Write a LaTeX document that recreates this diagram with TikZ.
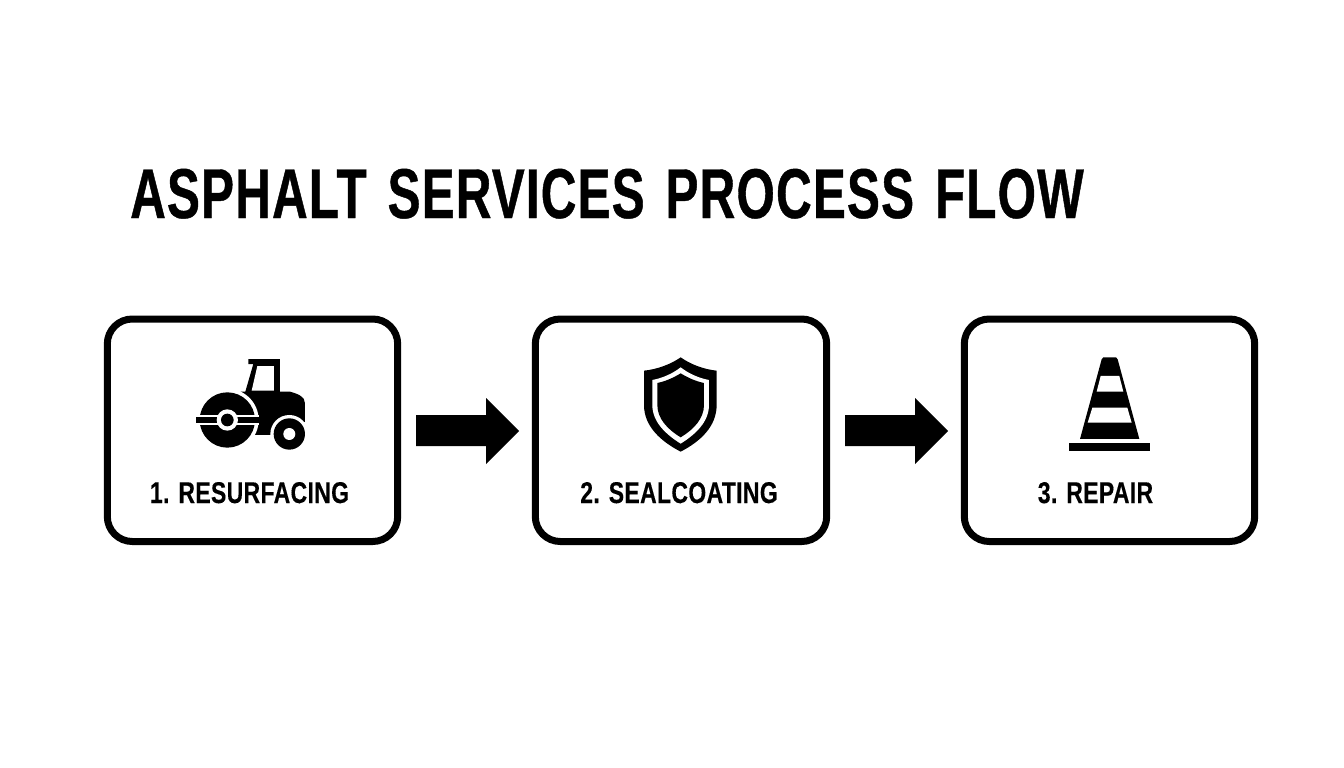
\documentclass[tikz,border=0pt]{standalone}
\usepackage{fontspec}
\newfontfamily\titlefont[FakeStretch=0.70,FakeBold=0.6,LetterSpace=1.7,WordSpace=1.4]{Liberation Sans Bold}
\newfontfamily\labelfont[FakeStretch=0.765,FakeBold=0.3,LetterSpace=1.2]{Liberation Sans Bold}
\tikzset{
  card/.style={draw=black,line width=7pt,rounded corners=25pt,fill=white},
  flowarrow/.style={fill=black,draw=none},
  titletext/.style={inner sep=0pt,anchor=base west,font=\titlefont\fontsize{70.5}{70.5}\selectfont},
  cardlabel/.style={inner sep=0pt,anchor=base,font=\labelfont\fontsize{30}{30}\selectfont},
}
\begin{document}
\begin{tikzpicture}[x=1pt,y=-1pt]
\useasboundingbox[fill=white] (0,0) rectangle (1344,768);
\node[titletext] (title) at (130,218) {ASPHALT SERVICES PROCESS FLOW};
% cards
\draw[card] (107.3,319) rectangle (397.7,541.5);
\draw[card] (535.3,319) rectangle (826.7,541.5);
\draw[card] (964.3,319) rectangle (1254.7,541.5);
\node[cardlabel] (l1) at (249.5,503) {1. RESURFACING};
\node[cardlabel] (l2) at (679,503) {2. SEALCOATING};
\node[cardlabel] (l3) at (1095.5,503) {3. REPAIR};
% arrows
\fill[flowarrow] (416,415) -- (486,415) -- (486,398) -- (519,431) -- (486,464) -- (486,446) -- (416,446) -- cycle;
\fill[flowarrow] (845,415) -- (915,415) -- (915,398) -- (948,431) -- (915,464) -- (915,446) -- (845,446) -- cycle;
% roller
\begin{scope}[shift={(170,340)},x=0.3333pt,y=-0.3333pt]
  \fill[black] (212,155) -- (226,155) -- (250,72) -- (235,72) -- (235,57) -- (330,57) -- (330,155) -- (360,155) .. controls (385,162) and (405,170) .. (405,190) -- (405,245) -- (300,285) -- (225,285) -- cycle;
  \fill[white] (262,78) -- (312,78) -- (312,152) -- (245,152) -- cycle;
  \fill[white] (172,240) circle (94);
  \fill[black] (172,240) circle (83);
  \fill[white] (78,226) rectangle (268,254);
  \fill[black] (78,232) rectangle (268,248);
  \fill[white] (172,240) circle (32);
  \fill[black] (172,240) circle (19);
  \fill[white] (358,282) circle (57);
  \fill[black] (358,282) circle (47);
  \fill[white] (358,282) circle (18);
\end{scope}
% shield
\begin{scope}[shift={(620,340)},x=0.3333pt,y=-0.3333pt]
  \fill[black] (182,52) .. controls (210,72) and (250,88) .. (290,92) -- (290,195) .. controls (290,260) and (240,305) .. (182,335) .. controls (124,305) and (72,260) .. (72,195) -- (72,92) .. controls (112,88) and (154,72) .. (182,52) -- cycle;
  \fill[white] (182,82) .. controls (205,100) and (235,114) .. (267,120) -- (267,195) .. controls (267,245) and (228,282) .. (182,311) .. controls (136,282) and (97,245) .. (97,195) -- (97,120) .. controls (129,114) and (159,100) .. (182,82) -- cycle;
  \fill[black] (182,100) .. controls (205,114) and (228,124) .. (252,129) -- (252,195) .. controls (252,235) and (222,268) .. (182,292) .. controls (142,268) and (112,235) .. (112,195) -- (112,129) .. controls (136,124) and (159,114) .. (182,100) -- cycle;
\end{scope}
% cone
\begin{scope}[shift={(1050,340)},x=0.3333pt,y=-0.3333pt]
  \fill[black] (90,297) -- (155,58) -- (160,52) -- (198,52) -- (203,58) -- (268,297) -- cycle;
  \fill[white] (152,108) -- (208,108) -- (220,155) -- (140,155) -- cycle;
  \fill[white] (127,203) -- (232,203) -- (245,248) -- (113,248) -- cycle;
  \fill[black] (58,310) rectangle (300,334);
\end{scope}
\end{tikzpicture}
\end{document}
